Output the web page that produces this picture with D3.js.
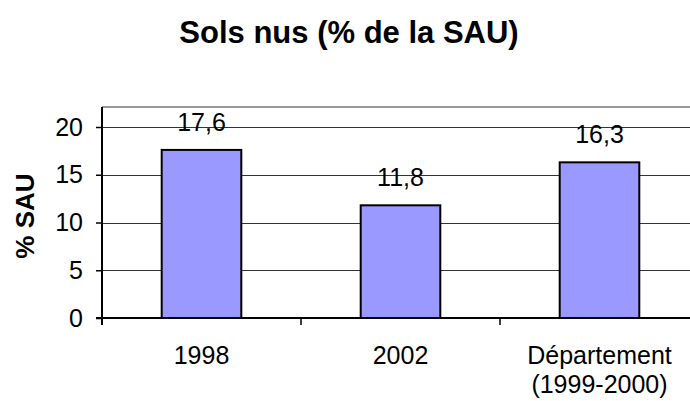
<!DOCTYPE html>
<html>
<head>
<meta charset="utf-8">
<script src="https://cdn.jsdelivr.net/npm/d3@7"></script>
<style>
  html, body { margin: 0; padding: 0; background: #fff; }
  svg { display: block; font-family: "Liberation Sans", Arial, sans-serif; }
</style>
</head>
<body>
<svg id="chart" width="690" height="401"></svg>
<script>
const categories = ["1998", "2002", "Département\n(1999-2000)"];
const values = [17.6, 11.8, 16.3];
const valueLabels = ["17,6", "11,8", "16,3"];
const yTicks = [0, 5, 10, 15, 20];
const titleText = "Sols nus (% de la SAU)";
const yAxisTitle = "% SAU";

const svg = d3.select("#chart");
const W = 690, H = 401;
const margin = { left: 102, top: 107, right: -9, bottom: 83 };
const x0 = margin.left, x1 = W - margin.right;
const yBottom = H - margin.bottom;
const FS = 25;

const x = d3.scaleBand().domain(categories).range([x0, x1]).paddingInner(0.6).paddingOuter(0.3);
const y = d3.scaleLinear().domain([0, 20]).range([yBottom, 127]);

// top border of plot area
svg.append("line").attr("x1", x0).attr("x2", x1).attr("y1", margin.top).attr("y2", margin.top)
  .attr("stroke", "#999").attr("stroke-width", 2);

// gridlines
svg.append("g").selectAll("line").data(yTicks.filter(d => d > 0)).join("line")
  .attr("x1", x0).attr("x2", x1)
  .attr("y1", d => Math.round(y(d)) + 0.5).attr("y2", d => Math.round(y(d)) + 0.5)
  .attr("stroke", "#333").attr("stroke-width", 1);

// bars
svg.append("g").selectAll("rect").data(values).join("rect")
  .attr("x", (d, i) => x(categories[i]))
  .attr("width", x.bandwidth())
  .attr("y", d => y(d))
  .attr("height", d => y(0) - y(d))
  .attr("fill", "#9999FF").attr("stroke", "#000").attr("stroke-width", 2);

// y axis
const yAxis = d3.axisLeft(y).tickValues(yTicks).tickSize(6).tickPadding(13).tickFormat(d3.format("d"));
const gy = svg.append("g").attr("transform", `translate(${x0},0)`).call(yAxis);
gy.select(".domain").attr("d", `M0,${margin.top}V${yBottom + 7}`).attr("stroke", "#000").attr("stroke-width", 2);
gy.selectAll(".tick line").attr("stroke", "#000").attr("stroke-width", 1.5);
gy.selectAll(".tick text").attr("font-size", FS).attr("fill", "#000")
  .attr("font-family", "'Liberation Sans', Arial, sans-serif");

// x axis line and category ticks
svg.append("line").attr("x1", x0 - 6).attr("x2", x1).attr("y1", yBottom).attr("y2", yBottom)
  .attr("stroke", "#000").attr("stroke-width", 2);
const bandStep = (x1 - x0) / categories.length;
svg.append("g").selectAll("line").data(d3.range(categories.length + 1)).join("line")
  .attr("x1", i => x0 + i * bandStep).attr("x2", i => x0 + i * bandStep)
  .attr("y1", yBottom).attr("y2", yBottom + 7)
  .attr("stroke", "#000").attr("stroke-width", 1.5);

// category labels
const catG = svg.append("g").attr("font-size", FS).attr("fill", "#000").attr("text-anchor", "middle");
categories.forEach((c, i) => {
  const cx = x(c) + x.bandwidth() / 2;
  const t = catG.append("text").attr("x", cx).attr("y", yBottom + 46);
  c.split("\n").forEach((line, k) => {
    t.append("tspan").attr("x", cx).attr("dy", k === 0 ? 0 : 29).text(line);
  });
});

// value labels
svg.append("g").selectAll("text").data(values).join("text")
  .attr("x", (d, i) => x(categories[i]) + x.bandwidth() / 2)
  .attr("y", d => y(d) - 19)
  .attr("text-anchor", "middle").attr("font-size", FS).attr("fill", "#000")
  .text((d, i) => valueLabels[i]);

// title
svg.append("text").attr("x", 349).attr("y", 43).attr("text-anchor", "middle")
  .attr("font-size", 31).attr("font-weight", "bold").attr("fill", "#000").text(titleText);

// y axis title
svg.append("text").attr("transform", `translate(34,216) rotate(-90)`)
  .attr("text-anchor", "middle").attr("font-size", 26).attr("font-weight", "bold").attr("fill", "#000")
  .text(yAxisTitle);
</script>
</body>
</html>
